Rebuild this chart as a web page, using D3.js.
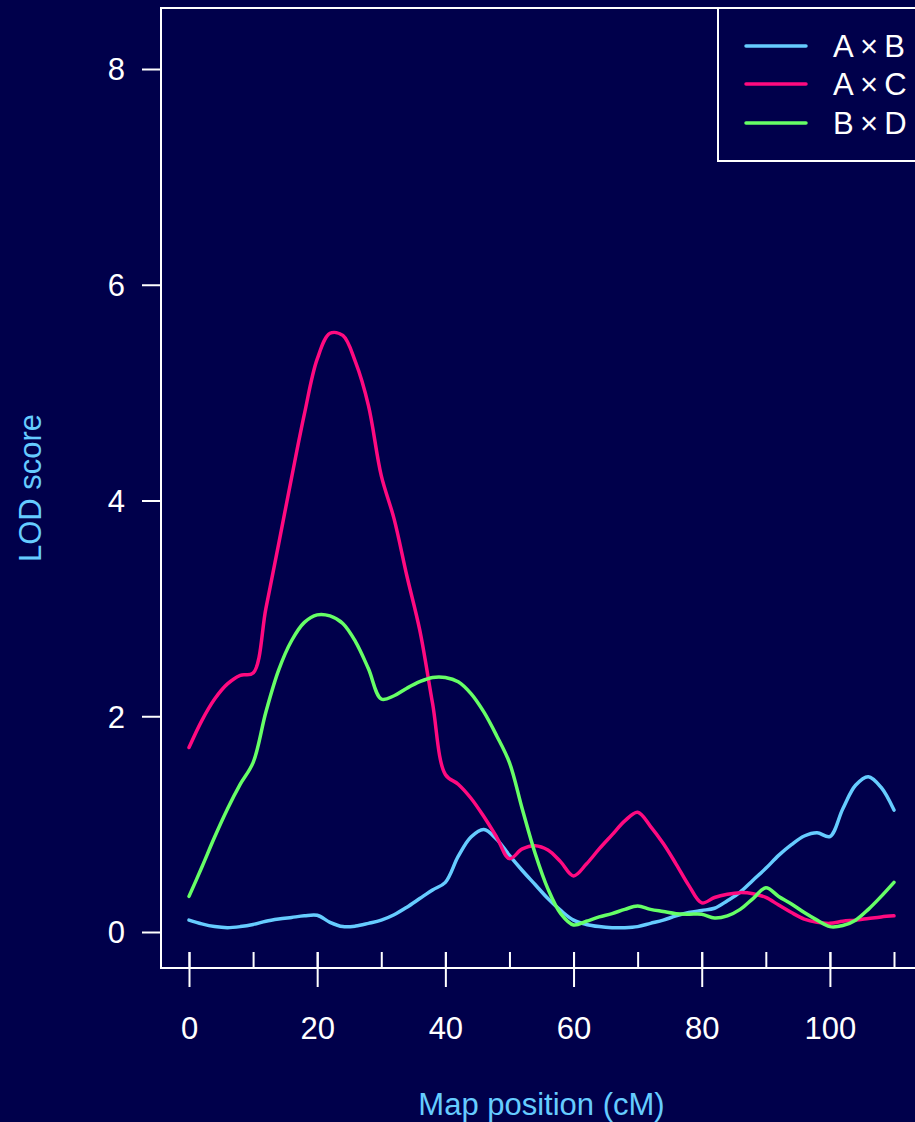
<!DOCTYPE html>
<html>
<head>
<meta charset="utf-8">
<script src="https://cdn.jsdelivr.net/npm/d3@7"></script>
<style>
  html, body { margin: 0; padding: 0; background: #00004b; }
  svg { display: block; }
  text { font-family: "Liberation Sans", Arial, sans-serif; }
</style>
</head>
<body>
<svg id="chart" width="915" height="1122"></svg>
<script>
// Map positions (cM) at which LOD scores were evaluated
const positions = [0,2,4,6,8,10,12,14,16,18,20,22,24,26,28,30,32,34,36,38,40,
  42,44,46,48,50,52,54,56,58,60,62,64,66,68,70,72,74,76,78,80,
  82,84,86,88,90,92,94,96,98,100,102,104,106,108,110];

// LOD profiles for each cross
const lodAxB = [0.11,0.075,0.05,0.04,0.05,0.07,0.10,0.12,0.135,0.15,0.155,
  0.09,0.05,0.055,0.08,0.11,0.16,0.23,0.31,0.39,0.46,
  0.70,0.88,0.95,0.86,0.71,0.57,0.44,0.31,0.20,0.11,
  0.07,0.05,0.04,0.04,0.05,0.08,0.11,0.15,0.18,0.20,
  0.22,0.29,0.37,0.48,0.59,0.71,0.81,0.89,0.92,0.885,
  1.14,1.36,1.44,1.34,1.13];
const lodAxC = [1.71,1.96,2.16,2.30,2.38,2.40,3.00,3.60,4.21,4.80,5.31,
  5.55,5.53,5.28,4.88,4.23,3.83,3.30,2.80,2.12,1.46,
  1.37,1.24,1.07,0.88,0.68,0.77,0.80,0.76,0.65,0.52,
  0.63,0.77,0.90,1.03,1.11,0.98,0.82,0.63,0.43,0.27,
  0.32,0.35,0.365,0.355,0.32,0.25,0.18,0.12,0.09,0.08,
  0.10,0.11,0.125,0.14,0.15];
const lodBxD = [0.33,0.60,0.88,1.14,1.37,1.57,2.04,2.43,2.70,2.87,2.94,
  2.93,2.86,2.69,2.44,2.16,2.19,2.26,2.32,2.36,2.36,
  2.32,2.21,2.04,1.82,1.57,1.14,0.73,0.40,0.17,0.065,
  0.10,0.14,0.17,0.21,0.24,0.21,0.19,0.17,0.165,0.165,
  0.13,0.15,0.21,0.31,0.41,0.33,0.26,0.18,0.11,0.05,
  0.06,0.11,0.21,0.33,0.46];

const seriesNames = ["A\u2009\u00d7\u2009B", "A\u2009\u00d7\u2009C", "B\u2009\u00d7\u2009D"];
const seriesColors = ["#66ccff", "#ff0a80", "#66ff66"];
const seriesValues = [lodAxB, lodAxC, lodBxD];

const yTicks = [0, 2, 4, 6, 8];
const xMajorTicks = [0, 20, 40, 60, 80, 100];
const xMinorTicks = [0, 10, 20, 30, 40, 50, 60, 70, 80, 90, 100, 110];

const svg = d3.select("#chart");
const fg = "#ffffff";
const titleColor = "#66ccff";
const fontSize = 31;

// Plot frame
const frame = { left: 161, top: 8, right: 922, bottom: 968 };

const x = d3.scaleLinear().domain([0, 110]).range([189, 894]);
const y = d3.scaleLinear().domain([0, 8]).range([932, 69]);

svg.append("rect").attr("width", 915).attr("height", 1122).attr("fill", "#00004b");

// Curves
const line = d3.line()
  .x(d => x(d[0]))
  .y(d => y(d[1]))
  .curve(d3.curveCatmullRom.alpha(0.5));

seriesValues.forEach((vals, i) => {
  svg.append("path")
    .datum(positions.map((p, j) => [p, vals[j]]))
    .attr("fill", "none")
    .attr("stroke", seriesColors[i])
    .attr("stroke-width", 3.5)
    .attr("stroke-linejoin", "round")
    .attr("stroke-linecap", "round")
    .attr("d", line);
});

// Frame box
svg.append("rect")
  .attr("x", frame.left).attr("y", frame.top)
  .attr("width", frame.right - frame.left).attr("height", frame.bottom - frame.top)
  .attr("fill", "none").attr("stroke", fg).attr("stroke-width", 2);

// Y axis
const yAxis = svg.append("g")
  .attr("transform", `translate(${frame.left},0)`)
  .call(d3.axisLeft(y).tickValues(yTicks).tickSize(19).tickPadding(17).tickFormat(d3.format("d")));
yAxis.select(".domain").remove();
yAxis.selectAll("line").attr("stroke", fg).attr("stroke-width", 2);
yAxis.selectAll("text").attr("fill", fg).attr("font-size", fontSize)
  .attr("font-family", "Liberation Sans, Arial, sans-serif").attr("dy", "0.35em");

// X axis: short ticks every 10 cM, longer labelled ticks every 20 cM
const xMinor = svg.append("g")
  .attr("transform", `translate(0,952)`)
  .call(d3.axisBottom(x).tickValues(xMinorTicks).tickSize(16).tickFormat(""));
xMinor.select(".domain").remove();
xMinor.selectAll("line").attr("stroke", fg).attr("stroke-width", 2);

const xMajor = svg.append("g")
  .attr("transform", `translate(0,952)`)
  .call(d3.axisBottom(x).tickValues(xMajorTicks).tickSize(35).tickPadding(0).tickFormat(d3.format("d")));
xMajor.select(".domain").remove();
xMajor.selectAll("line").attr("stroke", fg).attr("stroke-width", 2);
xMajor.selectAll("text").attr("fill", fg).attr("font-size", fontSize)
  .attr("font-family", "Liberation Sans, Arial, sans-serif")
  .attr("y", 76).attr("dy", "0.35em");

// Axis titles
svg.append("text")
  .attr("x", (frame.left + frame.right) / 2).attr("y", 1104)
  .attr("text-anchor", "middle").attr("dy", "0.35em")
  .attr("fill", titleColor).attr("font-size", fontSize)
  .text("Map position (cM)");

svg.append("text")
  .attr("transform", `translate(30,${(frame.top + frame.bottom) / 2}) rotate(-90)`)
  .attr("text-anchor", "middle").attr("dy", "0.35em")
  .attr("fill", titleColor).attr("font-size", fontSize)
  .text("LOD score");

// Legend
const legend = svg.append("g");
legend.append("rect")
  .attr("x", 718).attr("y", frame.top)
  .attr("width", frame.right - 718).attr("height", 161 - frame.top)
  .attr("fill", "#00004b").attr("stroke", fg).attr("stroke-width", 2);

const legendY = [46, 84, 123];
seriesNames.forEach((name, i) => {
  legend.append("line")
    .attr("x1", 746).attr("x2", 806)
    .attr("y1", legendY[i]).attr("y2", legendY[i])
    .attr("stroke", seriesColors[i]).attr("stroke-width", 3.5).attr("stroke-linecap", "round");
  legend.append("text")
    .attr("x", 833).attr("y", legendY[i]).attr("dy", "0.35em")
    .attr("fill", fg).attr("font-size", fontSize)
    .text(name);
});
</script>
</body>
</html>
